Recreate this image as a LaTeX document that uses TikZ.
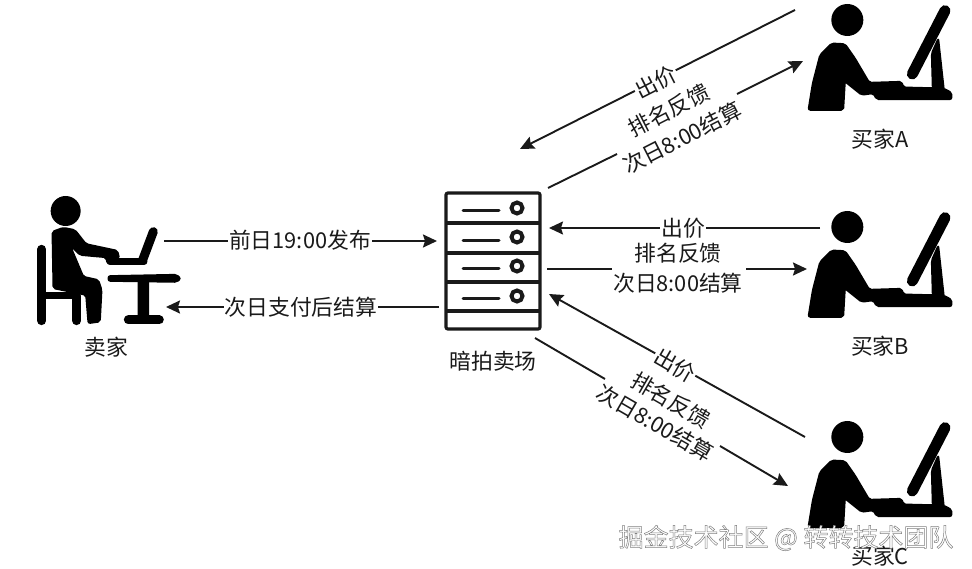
\documentclass[tikz,border=0pt]{standalone}
\usepackage{fontspec}
\usetikzlibrary{arrows.meta}
\setmainfont{Noto Sans CJK SC}
\definecolor{ink}{HTML}{1A1A1A}
\tikzset{
  wire/.style={draw=ink,line width=1.9pt},
  flow/.style={wire,-{Stealth[length=14pt,width=13pt,inset=2pt]}},
  cap label/.style={text=ink,font=\fontsize{21.8}{24}\selectfont,inner sep=0pt},
  on line/.style={cap label,fill=white,inner xsep=1pt,inner ysep=0pt},
  solid ink/.style={fill=black,draw=black,line width=1.6pt,line join=round,rounded corners=2pt},
  stroke ink/.style={draw=black,line cap=round},
  rack/.style={draw=ink,line width=3.2pt},
}
\newcommand{\buyericon}[1]{%
  \begin{scope}[shift={(790,#1)},x=.3333pt,y=-.3333pt]
    \fill[black] (172,60) circle[radius=16pt];
    \path[solid ink] (55,330) -- (68,250) -- (90,165) -- (125,130) -- (165,132) -- (195,175)
      -- (238,248) -- (335,245) -- (340,262) -- (460,265) -- (485,278) -- (485,298)
      -- (260,298) -- (250,280) -- (215,285) -- (165,245) -- (160,330) -- cycle;
    \draw[stroke ink,line width=11pt] (465,32) -- (367,222);
    \path[solid ink] (425,160) -- (445,115) -- (462,270) -- (428,270) -- cycle;
  \end{scope}}
\begin{document}
\begin{tikzpicture}[x=1pt,y=-1pt]
\fill[white] (0,0) rectangle (972,569);
\useasboundingbox (0,0) rectangle (972,569);

% seller icon
\begin{scope}[shift={(20,180)},x=.3333pt,y=-.3333pt]
  \fill[black] (137,93) circle[radius=15pt];
  \draw[stroke ink,line width=9pt] (65,208) -- (65,422);
  \draw[stroke ink,line width=7pt] (65,348) -- (170,348);
  \draw[stroke ink,line width=9pt] (170,348) -- (170,422);
  \path[solid ink] (97,155) -- (130,143) -- (165,150) -- (198,192) -- (292,212) -- (298,235)
    -- (262,250) -- (258,232) -- (180,225) -- (150,195) -- (190,290) -- (235,300) -- (245,330) -- (240,425)
    -- (205,430) -- (198,345) -- (100,325) -- cycle;
  \draw[stroke ink,line width=9pt] (400,155) -- (368,240);
  \draw[stroke ink,line width=7pt] (270,245) -- (372,245);
  \path[solid ink] (265,288) -- (470,284) -- (482,296) -- (470,306) -- (265,303) -- cycle;
  \path[solid ink] (355,300) -- (385,300) -- (385,410) -- (355,410) -- cycle;
  \draw[stroke ink,line width=9pt] (325,420) -- (418,420);
\end{scope}

% server icon
\draw[rack,rounded corners=2pt] (446,193) rectangle (540,329);
\draw[rack] (446,223) -- (540,223) (446,253) -- (540,253) (446,282) -- (540,282) (446,311) -- (540,311);
\draw[draw=ink,line width=3pt,line cap=round]
  (463,211) -- (499,211) (463,241) -- (499,241) (463,269) -- (499,269) (463,299) -- (499,299);
\draw[draw=ink,line width=4pt]
  (517,208) circle[radius=5.5pt] (517,237) circle[radius=5.5pt]
  (517,266) circle[radius=5.5pt] (517,296) circle[radius=5.5pt];

% buyer icons
\buyericon{0}
\buyericon{207}
\buyericon{417}

% names
\node[cap label] (seller) at (106,347) {卖家};
\node[cap label] (market) at (493,361) {暗拍卖场};
\node[cap label] (buyerA) at (880,139) {买家A};
\node[cap label] (buyerB) at (880,346) {买家B};
\node[cap label] (buyerC) at (880,556) {买家C};

% connector ends
\coordinate (sellerOut) at (164,241);
\coordinate (marketIn) at (437,241);
\coordinate (marketOut) at (439,307);
\coordinate (sellerIn) at (166,307);
\coordinate (aOut) at (795,10);
\coordinate (aMarket) at (520,149);
\coordinate (aFrom) at (548,188);
\coordinate (aGap1) at (617,154);
\coordinate (aGap2) at (737,94);
\coordinate (aIn) at (803,61);
\coordinate (bOut) at (820,228);
\coordinate (bMarket) at (549,228);
\coordinate (bFrom) at (547,269);
\coordinate (bGap1) at (612,269);
\coordinate (bGap2) at (746,269);
\coordinate (bIn) at (807,269);
\coordinate (cOut) at (805,437);
\coordinate (cMarket) at (549,294);
\coordinate (cFrom) at (535,338);
\coordinate (cGap1) at (605,379);
\coordinate (cGap2) at (720,446);
\coordinate (cIn) at (788,486);

% connectors
\draw[flow] (sellerOut) -- (marketIn);
\draw[flow] (marketOut) -- (sellerIn);
\draw[flow] (aOut) -- (aMarket);
\draw[wire] (aFrom) -- (aGap1);
\draw[flow] (aGap2) -- (aIn);
\draw[flow] (bOut) -- (bMarket);
\draw[wire] (bFrom) -- (bGap1);
\draw[flow] (bGap2) -- (bIn);
\draw[flow] (cOut) -- (cMarket);
\draw[wire] (cFrom) -- (cGap1);
\draw[flow] (cGap2) -- (cIn);

% connector labels
\node[on line] (l1) at (300,240) {前日19:00发布};
\node[on line] (l2) at (301,307) {次日支付后结算};
\node[on line,rotate=27] (a1) at (656,82) {出价};
\node[cap label,rotate=27] (a2) at (669,110) {排名反馈};
\node[cap label,rotate=27] (a3) at (682,138) {次日8:00结算};
\node[on line] (b1) at (683,228) {出价};
\node[cap label] (b2) at (678,253) {排名反馈};
\node[cap label] (b3) at (678,283) {次日8:00结算};
\node[on line,rotate=-30] (c1) at (675,365) {出价};
\node[cap label,rotate=-30] (c2) at (671,400) {排名反馈};
\node[cap label,rotate=-30] (c3) at (655,423) {次日8:00结算};

% watermark
\node[inner sep=0pt,font=\fontsize{25}{27}\selectfont] (mark) at (786,538)
  {\special{pdf:code 2 Tr 0.5 w 0.5 G 1 g}掘金技术社区 @ 转转技术团队\special{pdf:code 0 Tr}};
\end{tikzpicture}
\end{document}
